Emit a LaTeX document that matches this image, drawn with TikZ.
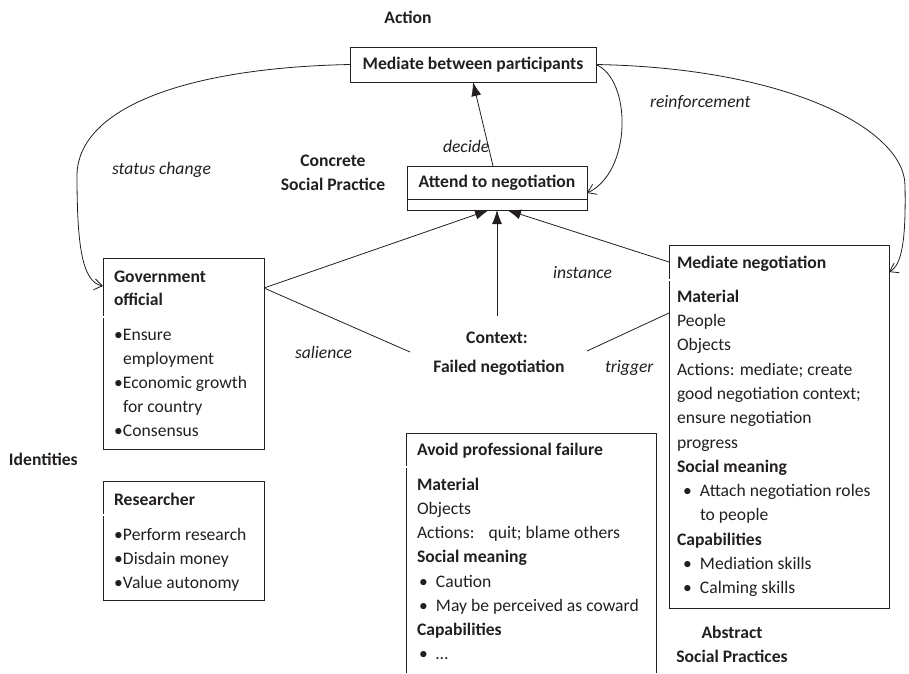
\documentclass[tikz,border=0pt]{standalone}
\usepackage{fontspec}
\setmainfont{Carlito}
\usetikzlibrary{arrows.meta}
\definecolor{ink}{HTML}{231F20}
\newcommand\fsz{\fontsize{17.6}{21}\selectfont}
\begin{document}
\begin{tikzpicture}[x=1pt,y=-1pt,
  every node/.style={inner sep=0pt,outer sep=0pt,text=ink,font=\fsz},
  ln/.style={anchor=base west},
  ttl/.style={anchor=base west,font=\fsz\bfseries},
  ctr/.style={anchor=base,font=\fsz\bfseries},
  lab/.style={anchor=base west,font=\fsz\itshape},
  con/.style={draw=ink,line width=0.8pt},
  fill tip/.style={-{Latex[length=14pt,width=10pt]}},
  open tip/.style={-{Straight Barb[length=8pt,width=11pt]}},
  dbl/.style={draw=ink,double=white,double distance=1.4pt,line width=0.6pt}]
\useasboundingbox (0,0) rectangle (909,673);
\newcommand\bl{\makebox[9pt][l]{•}}
\newcommand\tbl{\makebox[17pt][l]{•}}

% Action box
\node[ctr] (action) at (408,23) {Action};
\node[draw=ink,line width=0.8pt,minimum width=246pt,minimum height=35pt,font=\fsz\bfseries] (mbp) at (473,64.5) {Mediate between participants};

% Concrete social practice
\node[ctr] (conc1) at (333,166) {Concrete};
\node[ctr] (conc2) at (333,190) {Social Practice};
\node[draw=ink,line width=0.8pt,minimum width=180pt,minimum height=44pt,anchor=north west] (atn) at (407,166) {};
\node[font=\fsz\bfseries] (atnt) at (497,183) {Attend to negotiation};
\draw[con] (407,199) -- (587,199);

% labels
\node[lab] (lstatus) at (112,174) {status change};
\node[lab] (ldecide) at (443,152) {decide};
\node[lab] (lreinf) at (650,107) {reinforcement};
\node[lab] (lsal) at (295,358) {salience};
\node[lab] (linst) at (553,278) {instance};
\node[lab] (ltrig) at (605,372) {trigger};

% Government official
\node[draw=ink,line width=0.8pt,minimum width=161pt,minimum height=191pt,anchor=north west] (gov) at (103,258) {};
\draw[dbl] (103,317) -- (264,317);
\node[ttl] (gov1) at (114,282) {Government};
\node[ttl] (gov2) at (114,305) {official};
\node[ln] (gov3) at (114,340) {\bl Ensure};
\node[ln] (gov4) at (114,364) {\hspace*{9pt}employment};
\node[ln] (gov5) at (114,388) {\bl Economic growth};
\node[ln] (gov6) at (114,412) {\hspace*{9pt}for country};
\node[ln] (gov7) at (114,436) {\bl Consensus};

% Identities
\node[ttl] (ident) at (9,465) {Identities};

% Researcher
\node[draw=ink,line width=0.8pt,minimum width=161pt,minimum height=119pt,anchor=north west] (res) at (103,481) {};
\draw[dbl] (103,515) -- (264,515);
\node[ttl] (res1) at (114,505) {Researcher};
\node[ln] (res2) at (114,540) {\bl Perform research};
\node[ln] (res3) at (114,564) {\bl Disdain money};
\node[ln] (res4) at (114,588) {\bl Value autonomy};

% Context
\node[ctr] (ctx1) at (497,343) {Context:};
\node[ctr] (ctx2) at (499,372) {Failed negotiation};
\coordinate (ctxtop) at (497,316);
\coordinate (salend) at (410,352);
\coordinate (trigend) at (587,351);

% Mediate negotiation
\node[draw=ink,line width=0.8pt,minimum width=220pt,minimum height=363pt,anchor=north west] (mn) at (669,245) {};
\draw[dbl] (669,280) -- (889,280);
\node[ttl] (mn0) at (677,268) {Mediate negotiation};
\node[ttl] (mn1) at (677,302) {Material};
\node[ln] (mn2) at (677,326) {People};
\node[ln] (mn3) at (677,350) {Objects};
\node[ln] (mn4) at (677,375) {Actions: mediate; create};
\node[ln] (mn5) at (677,399) {good negotiation context;};
\node[ln] (mn6) at (677,423) {ensure negotiation};
\node[ln] (mn7) at (677,448) {progress};
\node[ttl] (mn8) at (677,472) {Social meaning};
\node[ln] (mn9) at (683,496) {\tbl Attach negotiation roles};
\node[ln] (mn10) at (683,520) {\hspace*{17pt}to people};
\node[ttl] (mn11) at (677,545) {Capabilities};
\node[ln] (mn12) at (683,569) {\tbl Mediation skills};
\node[ln] (mn13) at (683,593) {\tbl Calming skills};

% Abstract social practices
\node[ctr] (abs1) at (732,638) {Abstract};
\node[ctr] (abs2) at (732,662) {Social Practices};

% Avoid professional failure
\draw[con] (406,673) -- (406,433) coordinate (apfnw) -- (656,433) -- (656,673);
\draw[dbl] (406,467) -- (656,467);
\node[ttl] (apf0) at (417,455) {Avoid professional failure};
\node[ttl] (apf1) at (417,490) {Material};
\node[ln] (apf2) at (417,514) {Objects};
\node[ln] (apf3) at (417,538) {Actions:\hspace{14pt}quit; blame others};
\node[ttl] (apf4) at (417,562) {Social meaning};
\node[ln] (apf5) at (419,587) {\tbl Caution};
\node[ln] (apf6) at (419,611) {\tbl May be perceived as coward};
\node[ttl] (apf7) at (417,635) {Capabilities};
\node[ln] (apf8) at (419,659) {\tbl …};

% connectors
\draw[con,fill tip] ([xshift=-4pt]atn.north) -- ([xshift=0pt]mbp.south);
\draw[con,open tip] (mbp.east) .. controls (632,80) and (632,172) .. ([yshift=-5pt]atn.east);
\draw[con,open tip] (mbp.west) .. controls (180,68) and (78,110) .. (77,175) .. controls (77,245) and (82,282) .. ([yshift=-28pt]gov.north west);
\draw[con,open tip] (mbp.east) .. controls (790,68) and (904,130) .. (905,185) .. controls (906,240) and (902,265) .. ([yshift=-27pt]mn.north east);
\draw[con,fill tip] ([yshift=-30pt]gov.north east) -- ([xshift=-8pt]atn.south);
\draw[con,fill tip] (ctxtop) -- (atn.south);
\draw[con,fill tip] ([yshift=-17pt]mn.north west) -- ([xshift=10pt]atn.south);
\draw[con] ([yshift=-30pt]gov.north east) -- (salend);
\draw[con] (trigend) -- ([yshift=-68pt]mn.north west);
\end{tikzpicture}
\end{document}
